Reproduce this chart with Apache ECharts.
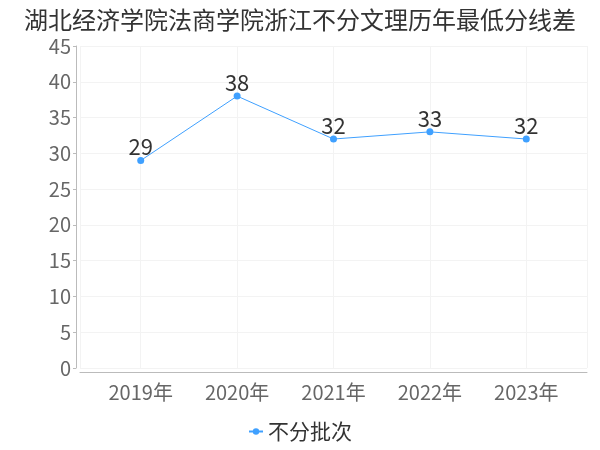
<!DOCTYPE html>
<html><head><meta charset="utf-8">
<script src="https://cdn.jsdelivr.net/npm/echarts@6/dist/echarts.min.js"></script>
<style>html,body{margin:0;padding:0;background:#fff}#c{width:600px;height:450px}</style>
</head><body><div id="c"></div>
<script>
const categories = ['2019年','2020年','2021年','2022年','2023年'];
const values = [29, 38, 32, 33, 32];
const seriesName = '不分批次';
const titleText = '湖北经济学院法商学院浙江不分文理历年最低分线差';

const chart = echarts.init(document.getElementById('c'));
const font = '"Noto Sans CJK SC", "Noto Sans", sans-serif';
chart.setOption({
  animation: false,
  textStyle: {fontFamily: font},
  title: {text: titleText, left: 'center', top: 3,
    textStyle: {fontSize: 24, fontWeight: 'normal', color: '#333', fontFamily: font}},
  legend: {data: [seriesName], bottom: 3, left: 'center', itemWidth: 14, itemHeight: 8, itemGap: 4,
    textStyle: {fontSize: 21, color: '#333', fontFamily: font}},
  grid: {left: 80, right: 13, top: 46, bottom: 82},
  xAxis: {type: 'value', min: -0.63, max: 4.63, splitNumber: 5, offset: 4,
    axisLine: {show: true, onZero: false, lineStyle: {color: '#bbb'}},
    axisTick: {show: false},
    axisLabel: {fontSize: 20, color: '#666', margin: 10, showMinLabel: false, showMaxLabel: false,
      formatter: v => (Number.isInteger(v) && categories[v]) ? categories[v] : ''},
    splitLine: {show: true, lineStyle: {color: '#f3f3f3'}}},
  yAxis: {type: 'value', min: 0, max: 45, interval: 5, offset: 4,
    axisLine: {show: true, onZero: false, lineStyle: {color: '#bbb'}},
    axisTick: {show: true, length: 3, lineStyle: {color: '#bbb'}},
    axisLabel: {fontSize: 20, color: '#666', margin: 5},
    splitLine: {show: true, lineStyle: {color: '#f3f3f3'}}},
  series: [{name: seriesName, type: 'line',
    data: values.map((v, i) => [i, v]),
    symbol: 'circle', symbolSize: 7,
    itemStyle: {color: '#3fa0ff'}, lineStyle: {color: '#3fa0ff', width: 1},
    label: {show: true, position: 'top', fontSize: 22, color: '#333', distance: -1,
      formatter: p => p.value[1]}}]
});
</script></body></html>
